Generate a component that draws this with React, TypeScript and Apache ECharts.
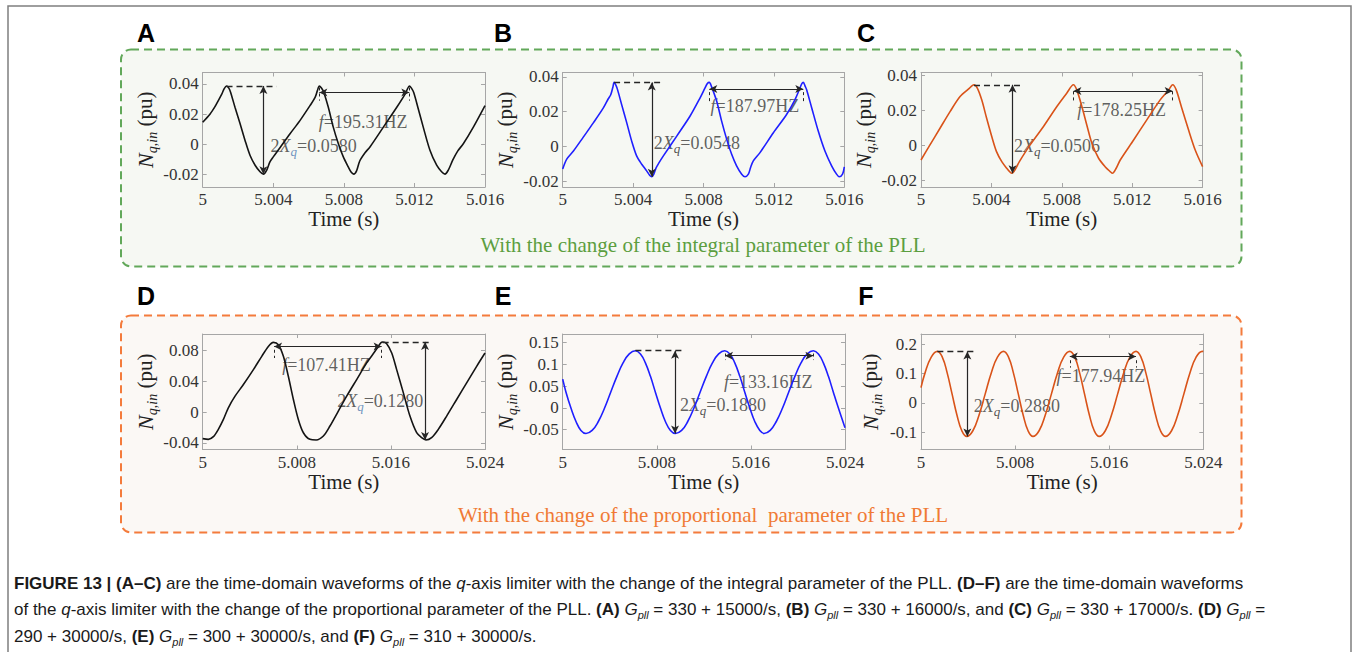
import React, { useEffect, useRef } from "react";
import * as echarts from "echarts";

// ---------------- data ----------------
const curveA = [
  [5, 0.0146], [5.00042, 0.0201], [5.0007, 0.025], [5.00083, 0.0278], [5.00108, 0.0332], [5.00122, 0.0368],
  [5.00135, 0.0386], [5.00148, 0.0372], [5.00158, 0.0345], [5.00183, 0.0245], [5.00212, 0.0136], [5.0024, 0.0026],
  [5.00268, -0.0072], [5.00297, -0.0138], [5.00325, -0.0181], [5.00344, -0.0197], [5.00363, -0.017], [5.00381, -0.0116],
  [5.004, -0.0083], [5.00438, -0.0022], [5.00495, 0.007], [5.00551, 0.0157], [5.00608, 0.0256], [5.00637, 0.031],
  [5.0065, 0.0355], [5.00661, 0.0386], [5.00673, 0.0372], [5.00686, 0.0345], [5.00712, 0.0245], [5.0074, 0.0114],
  [5.00769, 0.0004], [5.00797, -0.0083], [5.00825, -0.0149], [5.00842, -0.0185], [5.00856, -0.0197], [5.00872, -0.0175],
  [5.0089, -0.011], [5.0092, -0.0055], [5.00948, -0.0017], [5.01024, 0.0114], [5.011, 0.0245], [5.01147, 0.0332],
  [5.0116, 0.0365], [5.01171, 0.0386], [5.01183, 0.0372], [5.01196, 0.0343], [5.01222, 0.0234], [5.0125, 0.0114],
  [5.01288, -0.0039], [5.01326, -0.0138], [5.01354, -0.0181], [5.01373, -0.0197], [5.01392, -0.017], [5.01417, -0.0105],
  [5.01445, -0.0045], [5.01477, 0.0004], [5.01534, 0.0114], [5.016, 0.0256],
];
const curveB = [
  [5, -0.0131], [5.00023, -0.0074], [5.00061, -0.0027], [5.00117, 0.0053], [5.00174, 0.0135], [5.00231, 0.0221],
  [5.00259, 0.0274], [5.00273, 0.0297], [5.00285, 0.034], [5.00292, 0.0368], [5.00302, 0.0352], [5.00312, 0.0325],
  [5.00335, 0.024], [5.00364, 0.0135], [5.00392, 0.003], [5.0042, -0.0055], [5.00449, -0.0103], [5.00477, -0.0141],
  [5.00495, -0.0168], [5.00506, -0.0175], [5.00517, -0.0162], [5.0053, -0.0125], [5.00545, -0.0098], [5.00572, -0.0055],
  [5.00648, 0.0059], [5.00723, 0.0173], [5.0078, 0.0278], [5.00808, 0.0335], [5.00822, 0.0362], [5.00833, 0.0368],
  [5.00845, 0.0345], [5.00875, 0.0259], [5.00903, 0.0145], [5.00932, 0.004], [5.0096, -0.0046], [5.00988, -0.0112],
  [5.01017, -0.016], [5.01036, -0.0175], [5.01055, -0.016], [5.01068, -0.012], [5.01083, -0.0084], [5.01121, -0.0036],
  [5.01197, 0.0078], [5.01272, 0.0183], [5.0132, 0.0269], [5.01348, 0.0335], [5.01358, 0.036], [5.01367, 0.0368],
  [5.01378, 0.0345], [5.01386, 0.0326], [5.01415, 0.0221], [5.01452, 0.0088], [5.0149, -0.0027], [5.01528, -0.0112],
  [5.01556, -0.016], [5.01571, -0.0175], [5.0159, -0.016], [5.016, -0.0118],
];
const curveC = [
  [5, -0.0084], [5.00051, 0.0002], [5.00108, 0.0097], [5.00165, 0.0192], [5.00222, 0.0278], [5.00269, 0.032],
  [5.00301, 0.0345], [5.0032, 0.0326], [5.00345, 0.0259], [5.00373, 0.0154], [5.00402, 0.005], [5.00429, -0.0036],
  [5.00459, -0.0093], [5.00487, -0.0131], [5.00505, -0.0152], [5.00516, -0.016], [5.00528, -0.015], [5.00545, -0.012],
  [5.00559, -0.0093], [5.0062, 0.0002], [5.00696, 0.0107], [5.00772, 0.0221], [5.00828, 0.0297], [5.00866, 0.0345],
  [5.00885, 0.0316], [5.00914, 0.0221], [5.00942, 0.0116], [5.00971, 0.0011], [5.01009, -0.0074], [5.01046, -0.0122],
  [5.01075, -0.015], [5.01088, -0.016], [5.01109, -0.0131], [5.01132, -0.0084], [5.01208, 0.003], [5.01283, 0.0145],
  [5.01359, 0.0259], [5.01407, 0.0316], [5.0143, 0.0345], [5.0145, 0.0316], [5.01482, 0.0211], [5.0152, 0.0088],
  [5.01558, -0.0027], [5.016, -0.0122],
];
const curveD = [
  [5, -0.0345], [5.00048, -0.0354], [5.00091, -0.0319], [5.00133, -0.0224], [5.00176, -0.0095], [5.00218, 0.0056],
  [5.00275, 0.0207], [5.00346, 0.0358], [5.00431, 0.0552], [5.00502, 0.0725], [5.00558, 0.0854], [5.00601, 0.0906],
  [5.00643, 0.0876], [5.00686, 0.0725], [5.00728, 0.0466], [5.00771, 0.0164], [5.00813, -0.0095], [5.00856, -0.0268],
  [5.00912, -0.0354], [5.00965, -0.0362], [5.01026, -0.0311], [5.01082, -0.0181], [5.01153, 0.0013], [5.01224, 0.0207],
  [5.01309, 0.0423], [5.01394, 0.0639], [5.01465, 0.079], [5.01513, 0.0897], [5.0153, 0.0912], [5.01564, 0.0889],
  [5.01607, 0.0768], [5.01649, 0.0552], [5.01706, 0.025], [5.01762, -0.0052], [5.01819, -0.0268], [5.01861, -0.0332],
  [5.01898, -0.0362], [5.01946, -0.0332], [5.02003, -0.0224], [5.02074, -0.0052], [5.02159, 0.0164], [5.02244, 0.038],
  [5.02329, 0.0595], [5.024, 0.0768],
];
const curveE = [
  [5, 0.066], [5.00028, 0.036], [5.0007, -0.0005], [5.00113, -0.0315], [5.00155, -0.0521], [5.00198, -0.0592],
  [5.0025, -0.0521], [5.00303, -0.0315], [5.00356, -0.0005], [5.00408, 0.036], [5.00461, 0.0725], [5.00513, 0.1035],
  [5.00566, 0.1241], [5.00618, 0.1315], [5.00661, 0.1241], [5.00703, 0.1035], [5.00746, 0.0725], [5.00788, 0.036],
  [5.00831, -0.0005], [5.00873, -0.0315], [5.00916, -0.0521], [5.00958, -0.0592], [5.01011, -0.0521], [5.01063, -0.0315],
  [5.01116, -0.0005], [5.01168, 0.036], [5.01221, 0.0725], [5.01273, 0.1035], [5.01326, 0.1241], [5.01378, 0.1315],
  [5.01421, 0.1241], [5.01463, 0.1035], [5.01506, 0.0725], [5.01548, 0.036], [5.01591, -0.0005], [5.01633, -0.0315],
  [5.01676, -0.0521], [5.01712, -0.0592], [5.01764, -0.0521], [5.01816, -0.0315], [5.01869, -0.0005], [5.01921, 0.036],
  [5.01974, 0.0725], [5.02026, 0.1035], [5.02079, 0.1241], [5.02131, 0.1315], [5.02174, 0.1241], [5.02216, 0.1035],
  [5.02259, 0.0725], [5.02301, 0.036], [5.02344, -0.0005], [5.024, -0.046],
];
const curveF = [
  [5, 0.052], [5.00035, 0.1029], [5.00087, 0.1557], [5.00139, 0.175], [5.00181, 0.1557], [5.00222, 0.1029],
  [5.00264, 0.0307], [5.00306, -0.0415], [5.00347, -0.0943], [5.00389, -0.1136], [5.00441, -0.0943], [5.00493, -0.0415],
  [5.00546, 0.0307], [5.00598, 0.1029], [5.0065, 0.1557], [5.00702, 0.175], [5.00744, 0.1557], [5.00785, 0.1029],
  [5.00827, 0.0307], [5.00869, -0.0415], [5.0091, -0.0943], [5.00952, -0.1136], [5.01004, -0.0943], [5.01056, -0.0415],
  [5.01109, 0.0307], [5.01161, 0.1029], [5.01213, 0.1557], [5.01265, 0.175], [5.01307, 0.1557], [5.01348, 0.1029],
  [5.0139, 0.0307], [5.01432, -0.0415], [5.01473, -0.0943], [5.01515, -0.1136], [5.01567, -0.0943], [5.01619, -0.0415],
  [5.01672, 0.0307], [5.01724, 0.1029], [5.01776, 0.1557], [5.01828, 0.175], [5.0187, 0.1557], [5.01911, 0.1029],
  [5.01953, 0.0307], [5.01995, -0.0415], [5.02036, -0.0943], [5.02078, -0.1136], [5.0213, -0.0943], [5.02182, -0.0415],
  [5.02235, 0.0307], [5.02287, 0.1029], [5.02339, 0.1557], [5.02391, 0.175], [5.024, 0.1745],
];

// axis ranges and tick labels
const xTicksTop = [5, 5.004, 5.008, 5.012, 5.016];
const xTicksBottom = [5, 5.008, 5.016, 5.024];
const yTicksA = [-0.02, 0, 0.02, 0.04];
const yTicksB = [-0.02, 0, 0.02, 0.04];
const yTicksC = [-0.02, 0, 0.02, 0.04];
const yTicksD = [-0.04, 0, 0.04, 0.08];
const yTicksE = [-0.05, 0, 0.05, 0.1, 0.15];
const yTicksF = [-0.1, 0, 0.1, 0.2];
const yRangeA = [-0.0282, 0.0475];
const yRangeB = [-0.0234, 0.0425];
const yRangeC = [-0.0238, 0.0415];
const yRangeD = [-0.0486, 0.1015];
const yRangeE = [-0.096, 0.17];
const yRangeF = [-0.158, 0.234];

// annotation values: peak level, dashed end, amplitude arrow, period arrow, label anchors
const guideA = { peak: [5.00135, 0.0386], dashEnd: 5.00419, arrowX: 5.00344, bottom: -0.0197, span: [5.00661, 5.01171], spanY: 0.0343, tick: [0.0376, 0.0289], fLabel: [5.00655, 0.0146], aLabel: [5.00382, -0.0013] };
const guideB = { peak: [5.00292, 0.0368], dashEnd: 5.00572, arrowX: 5.00506, bottom: -0.0175, span: [5.00833, 5.01367], spanY: 0.033, tick: [0.0312, 0.025], fLabel: [5.00837, 0.023], aLabel: [5.00515, 0.0021] };
const guideC = { peak: [5.00301, 0.0345], dashEnd: 5.00569, arrowX: 5.0052, bottom: -0.016, span: [5.00866, 5.0143], spanY: 0.031, tick: [0.0307, 0.0255], fLabel: [5.00885, 0.0202], aLabel: [5.00525, -0.0004] };
const guideD = { peak: [5.0153, 0.0912], dashEnd: 5.01932, arrowX: 5.0189, bottom: -0.0362, span: [5.00607, 5.01521], spanY: 0.0854, tick: [0.081, 0.0703], fLabel: [5.00671, 0.0617], aLabel: [5.01139, 0.0142] };
const guideE = { peak: [5.00618, 0.1315], dashEnd: 5.01026, arrowX: 5.00955, bottom: -0.0592, span: [5.0138, 5.02131], spanY: 0.12, tick: [0.125, 0.11], fLabel: [5.01366, 0.06], aLabel: [5.00992, 0.0062] };
const guideF = { peak: [5.00139, 0.175], dashEnd: 5.00459, arrowX: 5.00394, bottom: -0.1136, span: [5.01265, 5.01828], spanY: 0.158, tick: [0.145, 0.12], fLabel: [5.01148, 0.092], aLabel: [5.00445, -0.01] };

const freqTexts = ["195.31", "187.97", "178.25", "107.41", "133.16", "177.94"];
const ampTexts = ["0.0580", "0.0548", "0.0506", "0.1280", "0.1880", "0.2880"];
const panelLetters = ["A", "B", "C", "D", "E", "F"];

// ---------------- styling / layout ----------------
const SERIF = "'Liberation Serif', 'Times New Roman', serif";
const SANS = "'Liberation Sans', Arial, Helvetica, sans-serif";
const AXIS_GRAY = "#a6a6a6";
const TEXT_GRAY = "#333333";
const ANNOT = "#262626";

const panels = [
  { curve: curveA, guide: guideA, yr: yRangeA, yt: yTicksA, xt: xTicksTop, color: "#141414", smooth: 0.3, q: "#4a78b0", grid: { left: 202.7, top: 72.5, width: 282.3, height: 114.5 } },
  { curve: curveB, guide: guideB, yr: yRangeB, yt: yTicksB, xt: xTicksTop, color: "#1f1fff", smooth: 0.3, q: ANNOT, grid: { left: 562.7, top: 72.5, width: 281.6, height: 114.5 } },
  { curve: curveC, guide: guideC, yr: yRangeC, yt: yTicksC, xt: xTicksTop, color: "#d95319", smooth: 0.3, q: ANNOT, grid: { left: 921, top: 72.5, width: 281.6, height: 114.5 } },
  { curve: curveD, guide: guideD, yr: yRangeD, yt: yTicksD, xt: xTicksBottom, color: "#141414", smooth: 0.3, q: "#4a78b0", grid: { left: 202.7, top: 334, width: 282.3, height: 115.5 } },
  { curve: curveE, guide: guideE, yr: yRangeE, yt: yTicksE, xt: xTicksBottom, color: "#1f1fff", smooth: 0.45, q: ANNOT, grid: { left: 562.7, top: 334, width: 282.3, height: 115.5 } },
  { curve: curveF, guide: guideF, yr: yRangeF, yt: yTicksF, xt: xTicksBottom, color: "#d95319", smooth: 0.45, q: ANNOT, grid: { left: 921, top: 334, width: 282.3, height: 115.5 } },
];
const letterPos = [[146, 33], [503, 33], [866, 33], [146, 296], [503, 296], [866, 296]];

function buildOption() {
  const grid: any[] = [];
  const xAxis: any[] = [];
  const yAxis: any[] = [];
  const series: any[] = [];

  panels.forEach((p, i) => {
    grid.push({ ...p.grid, show: false, containLabel: false });
    const xmin = p.xt[0];
    const xmax = p.xt[p.xt.length - 1];
    const fmtX = (v: number) => String(parseFloat(v.toFixed(3)));
    const tickStyle = { inside: true, length: 4, lineStyle: { color: AXIS_GRAY, width: 1 } };
    xAxis.push({
      gridIndex: i, type: "value", min: xmin, max: xmax, position: "bottom",
      axisLine: { show: true, onZero: false, lineStyle: { color: AXIS_GRAY, width: 1 } },
      axisTick: { ...tickStyle, customValues: p.xt },
      axisLabel: { customValues: p.xt, formatter: fmtX, color: TEXT_GRAY, fontFamily: SERIF, fontSize: 17, margin: 4, showMinLabel: true, showMaxLabel: true },
      splitLine: { show: false },
      name: "Time (s)", nameLocation: "middle", nameGap: 13,
      nameTextStyle: { fontFamily: SERIF, fontSize: 21, color: "#222", verticalAlign: "top" },
    });
    xAxis.push({
      gridIndex: i, type: "value", min: xmin, max: xmax, position: "top",
      axisLine: { show: true, onZero: false, lineStyle: { color: AXIS_GRAY, width: 1 } },
      axisTick: { ...tickStyle, customValues: p.xt },
      axisLabel: { show: false }, splitLine: { show: false },
    });
    yAxis.push({
      gridIndex: i, type: "value", min: p.yr[0], max: p.yr[1], position: "left",
      axisLine: { show: true, onZero: false, lineStyle: { color: AXIS_GRAY, width: 1 } },
      axisTick: { ...tickStyle, customValues: p.yt },
      axisLabel: { customValues: p.yt, color: TEXT_GRAY, fontFamily: SERIF, fontSize: 17, margin: 4 },
      splitLine: { show: false },
      name: "{n|N}{s|q,in}{r| (pu)}", nameLocation: "middle", nameRotate: 90, nameGap: 37,
      nameTextStyle: {
        fontFamily: SERIF, fontSize: 21, color: "#222", lineHeight: 28,
        rich: {
          n: { fontFamily: SERIF, fontSize: 22, fontStyle: "italic", color: "#222", lineHeight: 28 },
          s: { fontFamily: SERIF, fontSize: 14, fontStyle: "italic", color: "#222", lineHeight: 14, verticalAlign: "bottom" },
          r: { fontFamily: SERIF, fontSize: 21, color: "#222", lineHeight: 28 },
        },
      },
    });
    yAxis.push({
      gridIndex: i, type: "value", min: p.yr[0], max: p.yr[1], position: "right",
      axisLine: { show: true, onZero: false, lineStyle: { color: AXIS_GRAY, width: 1 } },
      axisTick: { ...tickStyle, customValues: p.yt },
      axisLabel: { show: false }, splitLine: { show: false },
    });

    const g = p.guide;
    const solid = { type: "solid", color: ANNOT, width: 1.2 };
    const dashed = { type: [6, 4], color: ANNOT, width: 1.3 };
    const smallDash = { type: [3, 3], color: ANNOT, width: 1 };
    series.push({
      type: "line", xAxisIndex: i * 2, yAxisIndex: i * 2,
      data: p.curve, showSymbol: false, symbol: "none", smooth: p.smooth, silent: true,
      lineStyle: { color: p.color, width: 1.6 },
      markLine: {
        silent: true, symbol: ["none", "none"], label: { show: false }, emphasis: { disabled: true },
        data: [
          [{ coord: [g.peak[0], g.peak[1]], lineStyle: dashed }, { coord: [g.dashEnd, g.peak[1]], lineStyle: dashed }],
          [{ coord: [g.arrowX, g.peak[1]], symbol: "arrow", symbolSize: [6, 8], lineStyle: solid }, { coord: [g.arrowX, g.bottom], symbol: "arrow", symbolSize: [6, 8], lineStyle: solid }],
          [{ coord: [g.span[0], g.spanY], symbol: "arrow", symbolSize: [6, 8], lineStyle: solid }, { coord: [g.span[1], g.spanY], symbol: "arrow", symbolSize: [6, 8], lineStyle: solid }],
          [{ coord: [g.span[0], g.tick[0]], lineStyle: smallDash }, { coord: [g.span[0], g.tick[1]], lineStyle: smallDash }],
          [{ coord: [g.span[1], g.tick[0]], lineStyle: smallDash }, { coord: [g.span[1], g.tick[1]], lineStyle: smallDash }],
        ],
      },
    });
    series.push({
      type: "scatter", xAxisIndex: i * 2, yAxisIndex: i * 2, silent: true,
      symbolSize: 1, itemStyle: { color: "rgba(0,0,0,0)" },
      label: {
        show: true, position: "right", distance: 0, color: "#383838", fontFamily: SERIF, fontSize: 18, lineHeight: 24,
        rich: {
          i: { fontFamily: SERIF, fontSize: 18, fontStyle: "italic", color: "#383838", lineHeight: 24 },
          q: { fontFamily: SERIF, fontSize: 13, fontStyle: "italic", color: p.q, lineHeight: 13, verticalAlign: "bottom" },
        },
      },
      data: [
        { value: g.fLabel, label: { formatter: "{i|f}=" + freqTexts[i] + "HZ" } },
        { value: g.aLabel, label: { formatter: "2{i|X}{q|q}=" + ampTexts[i] } },
      ],
    });
  });

  const captionRich = {
    b: { fontFamily: SANS, fontSize: 17, fontWeight: "bold", fill: "#1a1a1a", lineHeight: 22 },
    i: { fontFamily: SANS, fontSize: 17, fontStyle: "italic", fill: "#1a1a1a", lineHeight: 22 },
    s: { fontFamily: SANS, fontSize: 11, fontStyle: "italic", fill: "#1a1a1a", lineHeight: 11, verticalAlign: "bottom" },
  };
  const captionLines = [
    "{b|FIGURE 13 | (A–C)} are the time-domain waveforms of the {i|q}-axis limiter with the change of the integral parameter of the PLL. {b|(D–F)} are the time-domain waveforms",
    "of the {i|q}-axis limiter with the change of the proportional parameter of the PLL. {b|(A)} {i|G}{s|pll} = 330 + 15000/s, {b|(B)} {i|G}{s|pll} = 330 + 16000/s, and {b|(C)} {i|G}{s|pll} = 330 + 17000/s. {b|(D)} {i|G}{s|pll} =",
    "290 + 30000/s, {b|(E)} {i|G}{s|pll} = 300 + 30000/s, and {b|(F)} {i|G}{s|pll} = 310 + 30000/s.",
  ];
  const captionY = [583, 609, 636];

  const graphic: any[] = [
    { type: "rect", z: -20, silent: true, shape: { x: 8, y: 6, width: 1343, height: 720 }, style: { fill: "#ffffff", stroke: "#7f7f7f", lineWidth: 1.5 } },
    { type: "rect", z: -10, silent: true, shape: { x: 121, y: 49.5, width: 1120.5, height: 217, r: 10 }, style: { fill: "#f6f8f3", stroke: "#62a85a", lineWidth: 2, lineDash: [8, 5] } },
    { type: "rect", z: -10, silent: true, shape: { x: 121, y: 315.5, width: 1120.5, height: 217, r: 10 }, style: { fill: "#fbf8f5", stroke: "#f47b3c", lineWidth: 2, lineDash: [8, 5] } },
    { type: "text", z: 5, silent: true, x: 703, y: 245, style: { text: "With the change of the integral parameter of the PLL", fontFamily: SERIF, fontSize: 21, fill: "#5c9e3f", textAlign: "center", textVerticalAlign: "middle" } },
    { type: "text", z: 5, silent: true, x: 703, y: 515, style: { text: "With the change of the proportional  parameter of the PLL", fontFamily: SERIF, fontSize: 21, fill: "#f07a34", textAlign: "center", textVerticalAlign: "middle" } },
  ];
  panelLetters.forEach((t, i) => {
    graphic.push({ type: "text", z: 5, silent: true, x: letterPos[i][0], y: letterPos[i][1], style: { text: t, fontFamily: SANS, fontSize: 25, fontWeight: "bold", fill: "#000", textAlign: "center", textVerticalAlign: "middle" } });
  });
  captionLines.forEach((t, i) => {
    graphic.push({ type: "text", z: 5, silent: true, x: 14, y: captionY[i], style: { text: t, rich: captionRich, fontFamily: SANS, fontSize: 17, lineHeight: 22, fill: "#1a1a1a", textAlign: "left", textVerticalAlign: "middle" } });
  });

  return { animation: false, backgroundColor: "#ffffff", grid, xAxis, yAxis, series, graphic };
}

export default function App() {
  const ref = useRef<HTMLDivElement>(null);
  useEffect(() => {
    if (!ref.current) return;
    const chart = echarts.init(ref.current, undefined, { renderer: "svg" });
    chart.setOption(buildOption() as any);
    return () => chart.dispose();
  }, []);
  return <div ref={ref} style={{ position: "fixed", left: 0, top: 0, width: 1356, height: 652 }} />;
}
